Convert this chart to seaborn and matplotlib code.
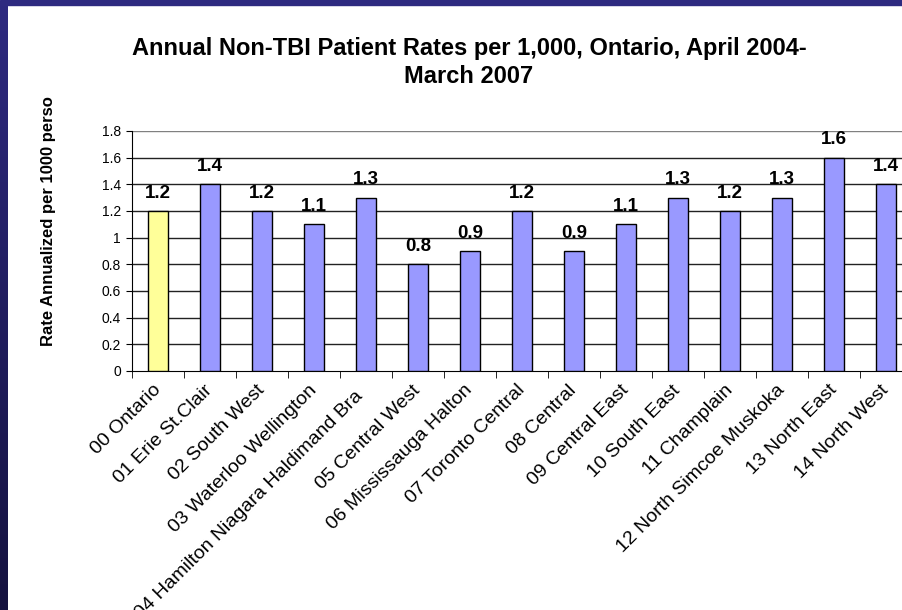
import numpy as np
import matplotlib
matplotlib.use("Agg")
import matplotlib.pyplot as plt
import matplotlib.transforms as mtransforms
import seaborn as sns
from matplotlib.patches import Rectangle

# data
regions = ["00 Ontario", "01 Erie St.Clair", "02 South West", "03 Waterloo Wellington",
           "04 Hamilton Niagara Haldimand Bra", "05 Central West", "06 Mississauga Halton",
           "07 Toronto Central", "08 Central", "09 Central East", "10 South East",
           "11 Champlain", "12 North Simcoe Muskoka", "13 North East", "14 North West"]
rates = [1.2, 1.4, 1.2, 1.1, 1.3, 0.8, 0.9, 1.2, 0.9, 1.1, 1.3, 1.2, 1.3, 1.6, 1.4]
bar_colors = ["#FFFF99"] + ["#9999FF"] * (len(regions) - 1)
y_ticks = [0, 0.2, 0.4, 0.6, 0.8, 1, 1.2, 1.4, 1.6, 1.8]
y_tick_labels = ["0", "0.2", "0.4", "0.6", "0.8", "1", "1.2", "1.4", "1.6", "1.8"]

sns.set_style("white")
plt.rcParams["font.family"] = ["Liberation Sans", "DejaVu Sans"]
plt.rcParams.update({"text.color": "black", "axes.labelcolor": "black",
                     "xtick.color": "black", "ytick.color": "black"})

fig = plt.figure(figsize=(9.02, 6.10), dpi=100)
fig.patch.set_facecolor("white")

# slide frame: top bar and left gradient strip
fig.add_artist(Rectangle((0, 1 - 5 / 610), 1, 5 / 610, transform=fig.transFigure,
                         color="#2e2a80", zorder=0))
strip = fig.add_axes([0, 0, 8 / 902, 1 - 5 / 610])
grad = np.linspace(0, 1, 256).reshape(-1, 1)
strip.imshow(grad, aspect="auto", cmap=matplotlib.colors.LinearSegmentedColormap.from_list(
    "frame", ["#2e2a80", "#15123f"]))
strip.axis("off")

ax = fig.add_axes([132 / 902, 1 - 371 / 610, 780 / 902, 240 / 610])
sns.barplot(x=regions, y=rates, hue=regions, palette=bar_colors, legend=False,
            width=0.4, edgecolor="black", linewidth=1, saturation=1, ax=ax, zorder=3)

ax.set_xlim(-0.5, len(regions) - 0.5)
ax.set_ylim(0, 1.8)
ax.set_yticks(y_ticks)
ax.set_yticklabels(y_tick_labels, fontsize=10)
for y in y_ticks[1:-1]:
    ax.axhline(y, color="#222222", lw=1, zorder=1)
ax.axhline(1.8, color="#808080", lw=1, zorder=1)

ax.set_xticks(range(len(regions)))
ax.set_xticklabels(regions, rotation=45, ha="right", va="center",
                   rotation_mode="anchor", fontsize=14)
ax.set_xticks(np.arange(len(regions) + 1) - 0.5, minor=True)
ax.tick_params(axis="x", which="major", length=0, pad=12)
ax.tick_params(axis="x", which="minor", length=5, direction="out", color="black", bottom=True)
ax.tick_params(axis="y", length=4, direction="out", color="black", left=True, pad=4)

# the truncated label is cut off at its end in the original, so slide it down-left a little
cut = ax.get_xticklabels()[4]
cut.set_transform(cut.get_transform() + mtransforms.ScaledTranslation(-0.06, -0.06, fig.dpi_scale_trans))

for side in ["top", "right"]:
    ax.spines[side].set_visible(False)
ax.spines["left"].set_color("black")
ax.spines["bottom"].set_color("black")

for i, v in enumerate(rates):
    ax.annotate(f"{v:.1f}", (i, v), xytext=(0, 9.5), textcoords="offset points",
                ha="center", va="baseline", fontsize=13.5, fontweight="bold")

ax.set_xlabel("")
ax.set_ylabel("Rate Annualized per 1000 perso", fontsize=12, fontweight="bold")
ax.yaxis.set_label_coords(-0.097, 0.625)

fig.text(469 / 902, 1 - 37 / 610, "Annual Non-TBI Patient Rates per 1,000, Ontario, April 2004-\nMarch 2007",
         ha="center", va="top", fontsize=17, fontweight="bold", linespacing=1.3)

fig.savefig("out.png", dpi=100)
